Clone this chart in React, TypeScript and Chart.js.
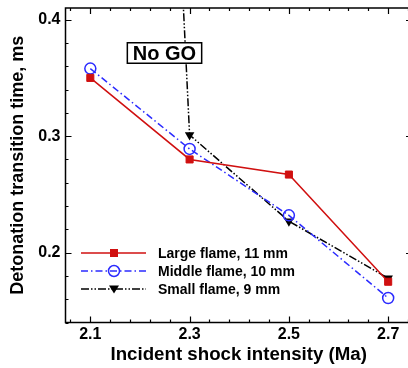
import React, { useEffect, useRef } from "react";
import { Chart, registerables } from "chart.js";

Chart.register(...registerables);

const xTicks = [2.1, 2.3, 2.5, 2.7];
const yTicks = [0.2, 0.3, 0.4];
const largeX = [2.1, 2.3, 2.5, 2.7];
const largeY = [0.35, 0.28, 0.267, 0.175];
const middleX = [2.1, 2.3, 2.5, 2.7];
const middleY = [0.358, 0.289, 0.232, 0.161];
const smallX = [2.2864, 2.3, 2.5, 2.7];
const smallY = [0.42, 0.301, 0.227, 0.178];
const smallMarker = [false, true, true, true];
const seriesNames = ["Large flame, 11 mm", "Middle flame, 10 mm", "Small flame, 9 mm"];
const annotationText = "No GO";
const xTitle = "Incident shock intensity (Ma)";
const yTitle = "Detonation transition time, ms";

const FONT = 'Arial, "Liberation Sans", Helvetica, sans-serif';
const RED = "#d01010";
const BLUE = "#2b2bff";
const BLACK = "#000000";
const DASH_BLUE = [7, 3, 1.5, 3];
const DASH_BLACK = [8, 2, 1.5, 2, 1.5, 2];

function drawMarker(ctx: CanvasRenderingContext2D, kind: number, x: number, y: number) {
  ctx.save();
  ctx.setLineDash([]);
  if (kind === 0) {
    ctx.fillStyle = RED;
    ctx.strokeStyle = RED;
    ctx.lineWidth = 1;
    ctx.fillRect(x - 3.5, y - 3.5, 7, 7);
    ctx.strokeRect(x - 3.5, y - 3.5, 7, 7);
  } else if (kind === 1) {
    ctx.strokeStyle = BLUE;
    ctx.lineWidth = 1.5;
    ctx.beginPath();
    ctx.arc(x, y, 5.5, 0, Math.PI * 2);
    ctx.stroke();
  } else {
    ctx.fillStyle = BLACK;
    ctx.beginPath();
    ctx.moveTo(x - 5, y - 3.5);
    ctx.lineTo(x + 5, y - 3.5);
    ctx.lineTo(x, y + 4.5);
    ctx.closePath();
    ctx.fill();
  }
  ctx.restore();
}

const decorPlugin = {
  id: "decor",
  afterDatasetsDraw(chart: any) {
    const ctx: CanvasRenderingContext2D = chart.ctx;
    const area = chart.chartArea;
    const xs = chart.scales.x;
    const ys = chart.scales.y;
    ctx.save();
    // frame
    ctx.strokeStyle = "#000";
    ctx.lineWidth = 1.5;
    ctx.setLineDash([]);
    ctx.strokeRect(area.left, area.top, area.right - area.left, area.bottom - area.top);
    // ticks
    ctx.lineWidth = 1.2;
    ctx.beginPath();
    for (let v = 2.06; v <= xs.max + 1e-9; v += 0.04) {
      const px = Math.round(xs.getPixelForValue(v)) + 0.5;
      const major = xTicks.some((t) => Math.abs(t - v) < 1e-6);
      const len = major ? 6 : 3;
      ctx.moveTo(px, area.bottom);
      ctx.lineTo(px, area.bottom - len);
      ctx.moveTo(px, area.top);
      ctx.lineTo(px, area.top + len);
    }
    for (let v = 0.14; v <= ys.max + 1e-9; v += 0.02) {
      const py = Math.round(ys.getPixelForValue(v)) + 0.5;
      const major = yTicks.some((t) => Math.abs(t - v) < 1e-6);
      const len = major ? 6 : 3;
      ctx.moveTo(area.left, py);
      ctx.lineTo(area.left + len, py);
      ctx.moveTo(area.right, py);
      ctx.lineTo(area.right - len, py);
    }
    ctx.stroke();

    // No GO box
    ctx.font = `bold 20px ${FONT}`;
    const tw = ctx.measureText(annotationText).width;
    const cx = 164.5;
    const cy = 53;
    const bw = tw + 11;
    const bh = 20.5;
    ctx.fillStyle = "#fff";
    ctx.fillRect(cx - bw / 2, cy - bh / 2, bw, bh);
    ctx.lineWidth = 1.5;
    ctx.strokeStyle = "#000";
    ctx.strokeRect(cx - bw / 2, cy - bh / 2, bw, bh);
    ctx.fillStyle = "#000";
    ctx.textAlign = "center";
    ctx.textBaseline = "middle";
    ctx.fillText(annotationText, cx, cy + 1);

    // legend
    const rows = [253, 271, 289];
    const colors = [RED, BLUE, BLACK];
    const dashes = [[], DASH_BLUE, DASH_BLACK];
    ctx.font = `bold 14px ${FONT}`;
    ctx.textAlign = "left";
    rows.forEach((ry, i) => {
      ctx.strokeStyle = colors[i];
      ctx.lineWidth = 1.5;
      ctx.setLineDash(dashes[i]);
      ctx.beginPath();
      ctx.moveTo(81, ry);
      ctx.lineTo(146, ry);
      ctx.stroke();
      drawMarker(ctx, i, 114, ry);
      ctx.fillStyle = "#000";
      ctx.fillText(seriesNames[i], 158, ry + 1);
    });
    ctx.restore();
  },
};

export default function App() {
  const ref = useRef<HTMLCanvasElement>(null);
  useEffect(() => {
    const canvas = ref.current!;
    const chart = new Chart(canvas, {
      type: "line",
      data: {
        datasets: [
          {
            label: seriesNames[0],
            data: largeX.map((x, i) => ({ x, y: largeY[i] })),
            borderColor: RED,
            backgroundColor: RED,
            borderWidth: 1.5,
            pointStyle: "rect",
            pointRadius: 5,
            pointBorderWidth: 1,
            pointBorderColor: RED,
            pointBackgroundColor: RED,
          },
          {
            label: seriesNames[1],
            data: middleX.map((x, i) => ({ x, y: middleY[i] })),
            borderColor: BLUE,
            backgroundColor: "rgba(0,0,0,0)",
            borderWidth: 1.5,
            borderDash: DASH_BLUE,
            pointStyle: "circle",
            pointRadius: 5.5,
            pointBorderWidth: 1.5,
            pointBorderColor: BLUE,
            pointBackgroundColor: "rgba(0,0,0,0)",
          },
          {
            label: seriesNames[2],
            data: smallX.map((x, i) => ({ x, y: smallY[i] })),
            borderColor: BLACK,
            backgroundColor: BLACK,
            borderWidth: 1.5,
            borderDash: DASH_BLACK,
            pointStyle: "triangle",
            pointRotation: 180,
            pointRadius: smallMarker.map((m) => (m ? 5.5 : 0)),
            pointBorderWidth: 0,
            pointBackgroundColor: BLACK,
          },
        ],
      },
      options: {
        responsive: false,
        animation: false,
        layout: { autoPadding: false, padding: { top: 8, right: 0, left: 0, bottom: 0 } },
        plugins: { legend: { display: false }, tooltip: { enabled: false } },
        elements: { line: { tension: 0 } },
        scales: {
          x: {
            type: "linear",
            min: 2.05,
            max: 2.748,
            grid: { display: false, drawTicks: false },
            border: { display: false },
            afterBuildTicks: (s: any) => {
              s.ticks = xTicks.map((v) => ({ value: v }));
            },
            afterFit: (s: any) => {
              s.height = 45.5;
              s.paddingLeft = 0;
              s.paddingRight = 0;
            },
            ticks: {
              color: "#000",
              font: { family: FONT, size: 16, weight: "bold" },
              padding: 2,
              maxRotation: 0,
              callback: (v: any) => Number(v).toFixed(1),
            },
            title: {
              display: true,
              text: xTitle,
              color: "#000",
              font: { family: FONT, size: 18.7, weight: "bold" },
              padding: { top: 0, bottom: 2 },
            },
          },
          y: {
            type: "linear",
            min: 0.14,
            max: 0.41,
            grid: { display: false, drawTicks: false },
            border: { display: false },
            afterBuildTicks: (s: any) => {
              s.ticks = yTicks.map((v) => ({ value: v }));
            },
            afterFit: (s: any) => {
              s.width = 65.5;
              s.paddingTop = 0;
              s.paddingBottom = 0;
            },
            ticks: {
              color: "#000",
              font: { family: FONT, size: 16, weight: "bold" },
              padding: 5,
              callback: (v: any) => Number(v).toFixed(1),
            },
            title: {
              display: true,
              text: yTitle,
              color: "#000",
              font: { family: FONT, size: 18, weight: "bold" },
              padding: { top: 7, bottom: 0 },
            },
          },
        },
      },
      plugins: [decorPlugin],
    });
    return () => chart.destroy();
  }, []);
  return (
    <div style={{ position: "absolute", left: 0, top: 0, width: 408, height: 368, overflow: "hidden", background: "#fff" }}>
      <canvas ref={ref} width={412} height={368} style={{ display: "block" }} />
    </div>
  );
}
